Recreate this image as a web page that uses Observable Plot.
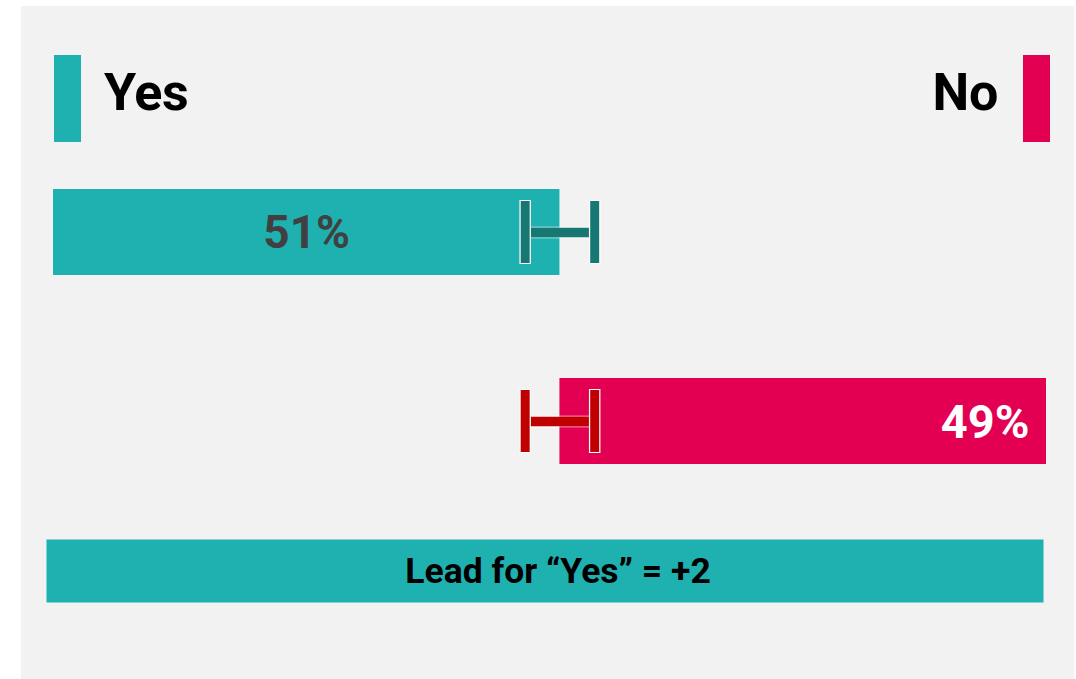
<!DOCTYPE html>
<html>
<head>
<meta charset="utf-8">
<script src="https://cdn.jsdelivr.net/npm/d3@7"></script>
<script src="https://cdn.jsdelivr.net/npm/@observablehq/plot@0.6"></script>
<style>
  html, body { margin: 0; padding: 0; background: #ffffff; }
  body { width: 1076px; height: 679px; position: relative; overflow: hidden; font-family: Roboto, "Open Sans", sans-serif; }
  #panel { position: absolute; left: 21px; top: 6px; width: 1053px; height: 673px; background: #f2f2f2; }
  .sw { position: absolute; top: 49px; width: 27px; height: 87px; }
  .lg { position: absolute; top: 57px; font-size: 52px; font-weight: 700; color: #000; line-height: 60px; letter-spacing: -0.3px; }
  #main, #lead { position: absolute; left: 0; }
  #main { top: 144px; }
  #lead { top: 533px; }
</style>
</head>
<body>
<div id="panel">
  <div class="sw" id="swYes" style="left:33px;"></div>
  <div class="lg" id="lgYes" style="left:83px;"></div>
  <div class="sw" id="swNo" style="left:1002px;"></div>
  <div class="lg" id="lgNo" style="right:76px;"></div>
  <div id="main"></div>
  <div id="lead"></div>
</div>
<script>
// ---- data ----
const categories = ["Yes", "No"];
const shares = [51, 49];              // percent
const marginOfError = [3.5, 3.5];     // percentage points, around the Yes/No boundary
const barColors = ["#1fb0b0", "#e30052"];
const errorColors = ["#177873", "#c00000"];
const labelColors = ["#404040", "#ffffff"];
const leadText = "Lead for \u201cYes\u201d = +2";

// ---- legend (HTML, above the chart) ----
document.getElementById("swYes").style.background = barColors[0];
document.getElementById("swNo").style.background = barColors[1];
document.getElementById("lgYes").textContent = categories[0];
document.getElementById("lgNo").textContent = categories[1];

// ---- table ----
const boundary = shares[0];
const rows = categories.map((c, i) => ({
  cat: c,
  start: i === 0 ? 0 : boundary,
  end: i === 0 ? boundary : boundary + shares[1],
  label: shares[i] + "%",
  lo: boundary - marginOfError[i],
  hi: boundary + marginOfError[i],
  color: barColors[i],
  ecolor: errorColors[i],
  tcolor: labelColors[i]
}));
const caps = rows.flatMap(r => [{cat: r.cat, x: r.lo, ecolor: r.ecolor}, {cat: r.cat, x: r.hi, ecolor: r.ecolor}]);

const font = "Roboto, 'Open Sans', sans-serif";

const main = Plot.plot({
  width: 1053,
  height: 350,
  marginLeft: 32,
  marginRight: 28,
  marginTop: 39,
  marginBottom: 36,
  style: {background: "transparent", fontFamily: font, overflow: "visible"},
  x: {domain: [0, 100], axis: null},
  y: {domain: categories, axis: null, paddingInner: 0.545, paddingOuter: 0},
  marks: [
    Plot.barX(rows, {y: "cat", x1: "start", x2: "end", fill: "color"}),
    Plot.text(rows.filter(r => r.cat === "Yes"), {
      y: "cat", x: d => (d.start + d.end) / 2, text: "label", fill: "tcolor",
      fontSize: 46, fontWeight: 700, textAnchor: "middle", dy: 1
    }),
    Plot.text(rows.filter(r => r.cat === "No"), {
      y: "cat", x: "end", text: "label", fill: "tcolor",
      fontSize: 47, fontWeight: 700, textAnchor: "end", dx: -17, dy: 1
    }),
    // error bars: halo then colour
    Plot.ruleY(rows, {y: "cat", x1: "lo", x2: "hi", stroke: "#ffffff", strokeOpacity: 0.45, strokeWidth: 12}),
    Plot.ruleY(rows, {y: "cat", x1: "lo", x2: "hi", stroke: "ecolor", strokeWidth: 9.5}),
    Plot.tickX(caps, {x: "x", y: "cat", stroke: "#ffffff", strokeWidth: 11.5, insetTop: 11, insetBottom: 11}),
    Plot.tickX(caps, {x: "x", y: "cat", stroke: "ecolor", strokeWidth: 9, insetTop: 12, insetBottom: 12})
  ]
});
document.getElementById("main").appendChild(main);

const lead = Plot.plot({
  width: 1053,
  height: 63,
  marginLeft: 25,
  marginRight: 31,
  marginTop: 0,
  marginBottom: 0,
  style: {background: "transparent", fontFamily: font, overflow: "visible"},
  x: {axis: null},
  y: {axis: null},
  marks: [
    Plot.frame({fill: barColors[0], stroke: null}),
    Plot.text([leadText], {frameAnchor: "middle", text: d => d, fill: "#000000", fontSize: 35.5, fontWeight: 700, dx: 13, dy: 1})
  ]
});
document.getElementById("lead").appendChild(lead);
</script>
</body>
</html>
